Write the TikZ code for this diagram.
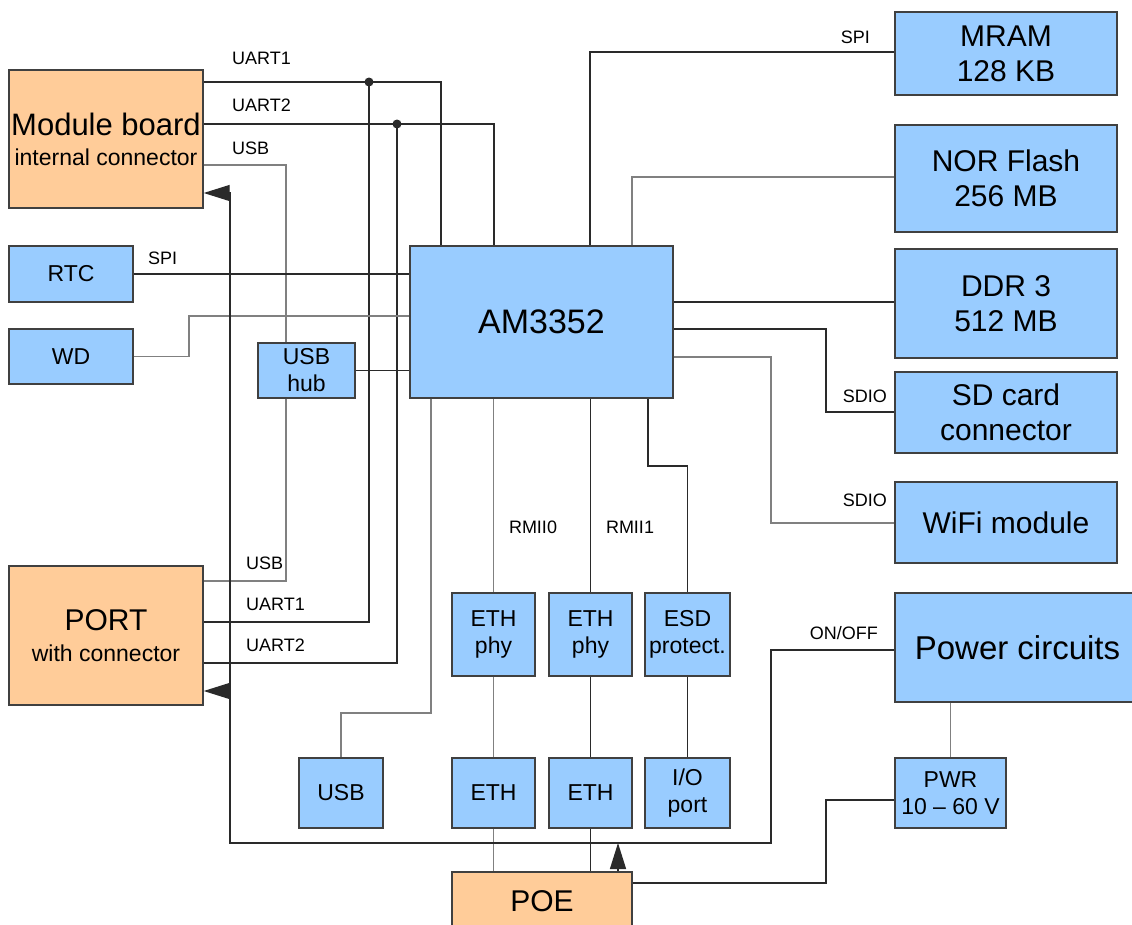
\documentclass[tikz,border=0pt]{standalone}
\usepackage{fontspec}
\setmainfont{Liberation Sans}
\usetikzlibrary{arrows.meta}
\definecolor{boxblue}{HTML}{99CCFF}
\definecolor{boxorange}{HTML}{FFCC99}
\definecolor{ldark}{HTML}{2A2A2A}
\definecolor{lgray}{HTML}{808080}
\definecolor{bord}{HTML}{404040}
\begin{document}
\begin{tikzpicture}[x=1pt,y=-1pt,
  bbox/.style={draw=bord, line width=1.4pt, fill=boxblue, inner sep=0pt, align=center, text=black},
  obox/.style={bbox, fill=boxorange},
  dk/.style={draw=ldark, line width=1.3pt},
  gy/.style={draw=lgray, line width=1.3pt},
  lbl/.style={font=\fontsize{18}{20}\selectfont, inner sep=0pt},
  tip/.style={-{Triangle[length=26pt,width=16pt]}},
  fbig/.style={font=\fontsize{30}{35}\selectfont},
  fsm/.style={font=\fontsize{23}{27}\selectfont}]
\useasboundingbox (0,0) rectangle (1132,924);
\clip (0,0) rectangle (1132,924);
\fill[white] (0,0) rectangle (1132,924);

% left boxes
\node[obox, font=\fontsize{23}{30}\selectfont, minimum width=194pt, minimum height=138pt] (mod) at (106,139)
  {{\fontsize{31}{30}\selectfont Module board}\\internal connector};
\node[bbox, fsm, minimum width=124pt, minimum height=56pt] (rtc) at (71,274) {RTC};
\node[bbox, fsm, minimum width=124pt, minimum height=55pt] (wd) at (71,356.5) {WD};
\node[bbox, fsm, minimum width=97pt, minimum height=55pt] (hub) at (306.5,370.5) {USB\\hub};
\node[obox, font=\fontsize{23}{31}\selectfont, minimum width=194pt, minimum height=139pt] (port) at (106,635.5)
  {{\fontsize{30}{31}\selectfont PORT}\\with connector};

% centre
\node[bbox, font=\fontsize{34}{38}\selectfont, minimum width=263pt, minimum height=152pt] (am) at (541.5,322) {AM3352};

% right boxes
\node[bbox, fbig, minimum width=222pt, minimum height=83pt] (mram) at (1006,53.5) {MRAM\\128 KB};
\node[bbox, fbig, minimum width=222pt, minimum height=107pt] (nor) at (1006,178.5) {NOR Flash\\256 MB};
\node[bbox, fbig, minimum width=222pt, minimum height=109pt] (ddr) at (1006,303.5) {DDR 3\\512 MB};
\node[bbox, fbig, minimum width=222pt, minimum height=81pt] (sd) at (1006,412.5) {SD card\\connector};
\node[bbox, fbig, minimum width=222pt, minimum height=81pt] (wifi) at (1006,522.5) {WiFi module};
\node[bbox, font=\fontsize{33}{38}\selectfont, minimum width=245pt, minimum height=109pt] (pc) at (1017.5,647.5) {Power circuits};
\node[bbox, fsm, minimum width=111pt, minimum height=70pt] (pwr) at (950.5,793) {PWR\\10 – 60 V};

% bottom boxes
\node[bbox, fsm, minimum width=83pt, minimum height=83pt] (ephy1) at (493.5,634.5) {ETH\\phy};
\node[bbox, fsm, minimum width=83pt, minimum height=83pt] (ephy2) at (590.5,634.5) {ETH\\phy};
\node[bbox, fsm, minimum width=85pt, minimum height=83pt] (esd) at (687.5,634.5) {ESD\\protect.};
\node[bbox, fsm, minimum width=84pt, minimum height=70pt] (usb) at (341,793) {USB};
\node[bbox, fsm, minimum width=83pt, minimum height=70pt] (eth1) at (493.5,793) {ETH};
\node[bbox, fsm, minimum width=83pt, minimum height=70pt] (eth2) at (590.5,793) {ETH};
\node[bbox, fsm, minimum width=85pt, minimum height=70pt] (io) at (687.5,793) {I/O\\port};
\node[obox, fbig, minimum width=180pt, minimum height=58pt] (poe) at (542,901) {POE};

% UART / USB links
\draw[dk] (mod.east |- 0,82) -- (441,82) -- (am.north -| 441,0);
\draw[dk] (mod.east |- 0,124) -- (494,124) -- (am.north -| 494,0);
\draw[gy] (mod.east |- 0,165) -- (286,165) -- (hub.north -| 286,0);
\draw[gy] (hub.south -| 286,0) -- (286,581) -- (port.east |- 0,581);
\draw[dk] (369,82) -- (369,622) -- (port.east |- 0,622);
\draw[dk] (397,124) -- (397,663) -- (port.east |- 0,663);
\fill[ldark] (369,82) circle (4.5pt) (397,124) circle (4.5pt);

% RTC, WD, hub
\draw[dk] (rtc.east) -- (am.west |- rtc.east);
\draw[gy] (wd.east) -- (189,356.5) -- (189,316) -- (am.west |- 0,316);
\draw[dk] (hub.east) -- (am.west |- hub.east);

% memories
\draw[dk] (am.north -| 590,0) -- (590,52) -- (mram.west |- 0,52);
\draw[gy] (am.north -| 632,0) -- (632,177) -- (nor.west |- 0,177);
\draw[dk] (am.east |- 0,302) -- (ddr.west |- 0,302);
\draw[dk] (am.east |- 0,329) -- (826,329) -- (826,412) -- (sd.west |- 0,412);
\draw[gy] (am.east |- 0,357) -- (771,357) -- (771,523) -- (wifi.west |- 0,523);

% bottom links
\draw[gy] (am.south -| 431,0) -- (431,713) -- (341,713) -- (usb.north);
\draw[gy] (am.south -| ephy1.north) -- (ephy1.north);
\draw[dk] (am.south -| ephy2.north) -- (ephy2.north);
\draw[dk] (am.south -| 648,0) -- (648,466) -- (687.5,466) -- (esd.north);
\draw[gy] (ephy1.south) -- (eth1.north);
\draw[dk] (ephy2.south) -- (eth2.north);
\draw[dk] (esd.south) -- (io.north);
\draw[gy] (eth1.south) -- (poe.north -| eth1.south);
\draw[dk] (eth2.south) -- (poe.north -| eth2.south);

% power
\draw[gy] (pc.south -| pwr.north) -- (pwr.north);
\draw[dk] (pwr.west |- 0,800) -- (826,800) -- (826,883) -- (poe.east |- 0,883);
\draw[dk, tip] (pc.west |- 0,650) -- (771,650) -- (771,843) -- (230,843) -- (230,193) -- (mod.east |- 0,193);
\draw[dk, tip] (230,691) -- (port.east |- 0,691);
\draw[dk, tip] (poe.north -| 618,0) -- (618,843);

% labels
\node[lbl, anchor=west] (l1) at (232,58) {UART1};
\node[lbl, anchor=west] (l2) at (232,105) {UART2};
\node[lbl, anchor=west] (l3) at (232,148) {USB};
\node[lbl, anchor=west] (l4) at (148,258) {SPI};
\node[lbl, anchor=west] (l5) at (246,563) {USB};
\node[lbl, anchor=west] (l6) at (246,604) {UART1};
\node[lbl, anchor=west] (l7) at (246,645) {UART2};
\node[lbl, anchor=east] (l8) at (870,37) {SPI};
\node[lbl, anchor=east] (l9) at (887,396) {SDIO};
\node[lbl, anchor=east] (l10) at (887,500) {SDIO};
\node[lbl, anchor=east] (l11) at (878,633) {ON/OFF};
\node[lbl] (l12) at (533,527) {RMII0};
\node[lbl] (l13) at (630,527) {RMII1};
\end{tikzpicture}
\end{document}
